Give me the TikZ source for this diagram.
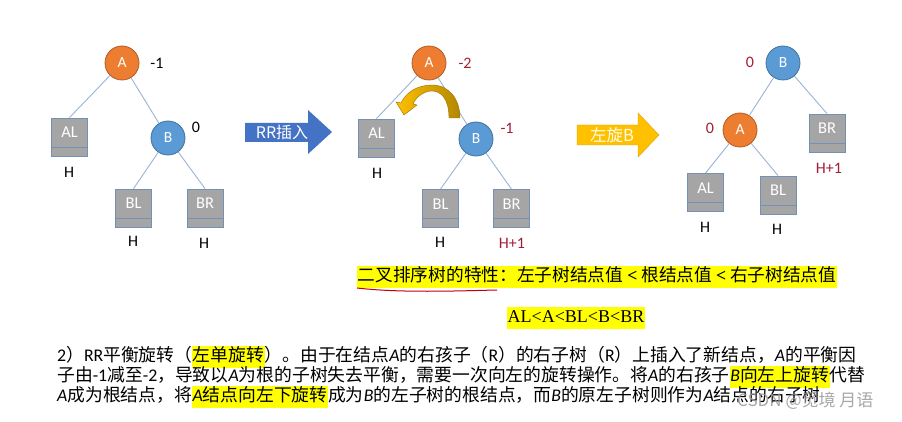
\documentclass[tikz,border=0pt]{standalone}
\usepackage{fontspec}
\setmainfont{Carlito}
\newfontfamily\cjk{Noto Sans CJK SC}
\newfontfamily\tms{Liberation Serif}
\usetikzlibrary{calc}
\definecolor{aorange}{HTML}{ED7D31}
\definecolor{aorangeD}{HTML}{B45A22}
\definecolor{bblue}{HTML}{5B9BD5}
\definecolor{bblueD}{HTML}{41719C}
\definecolor{boxgray}{HTML}{A5A5A5}
\definecolor{boxedge}{HTML}{7390B5}
\definecolor{linkblue}{HTML}{9BB4D6}
\definecolor{numred}{HTML}{A21E36}
\definecolor{arrblue}{HTML}{4472C4}
\definecolor{arrgold}{HTML}{FFC000}
\definecolor{hly}{HTML}{FFFF00}
\newcommand\hl[1]{{\setlength\fboxsep{0.6pt}\colorbox{hly}{\strut #1}}}
\newcommand\ia{{\normalfont\itshape A}}
\newcommand\ib{{\normalfont\itshape B}}
\newcommand\lt[1]{{\normalfont #1}}
\begin{document}
\begin{tikzpicture}[x=1pt,y=-1pt,
  circA/.style={circle, minimum size=34pt, inner sep=0pt, fill=aorange, draw=aorangeD, line width=0.8pt, text=white, font=\fontsize{15.5}{15.5}\selectfont},
  circB/.style={circA, fill=bblue, draw=bblueD},
  tbox/.style={rectangle, minimum width=36pt, minimum height=38pt, inner sep=0pt, fill=boxgray, draw=boxedge, line width=0.8pt,
     path picture={\draw[boxedge,line width=0.8pt] ([yshift=9pt]path picture bounding box.south west) -- ([yshift=9pt]path picture bounding box.south east);}},
  blbl/.style={text=white, font=\fontsize{16.5}{16.5}\selectfont, inner sep=0pt, yshift=4.5pt},
  num/.style={font=\fontsize{16}{16}\selectfont, inner sep=0pt},
  rnum/.style={num, text=numred},
  link/.style={draw=linkblue, line width=0.9pt},
  para/.style={anchor=west, inner sep=0pt, font=\cjk\fontsize{17.8}{20}\selectfont}
]
\useasboundingbox[fill=white] (0,0) rectangle (902,422);

% ---------- tree 1
\node[circA] (A1) at (122,63) {A};
\node[circB] (B1) at (168,138) {B};
\node[tbox, label={[blbl]center:AL}] (AL1) at (69.5,137) {};
\node[tbox, label={[blbl]center:BL}] (BL1) at (133.5,208) {};
\node[tbox, label={[blbl]center:BR}] (BR1) at (205,208) {};
\draw[link] (A1) -- (AL1.north);
\draw[link] (A1) -- (B1);
\draw[link] (B1) -- (BL1.north);
\draw[link] (B1) -- (BR1.north);
\node[num] (n1a) at (157,63) {-1};
\node[num] (n1b) at (196,127) {0};
\node[num] (h1a) at (69,172) {H};
\node[num] (h1b) at (133,241) {H};
\node[num] (h1c) at (204,243) {H};

% ---------- arrow 1
\fill[arrblue] (245,123) -- (308,123) -- (308,110) -- (332,132) -- (308,154) -- (308,142) -- (245,142) -- cycle;
\node[text=white, font=\cjk\fontsize{16}{16}\selectfont, inner sep=0pt] (t1) at (282,132) {RR插入};

% ---------- tree 2
\node[circA] (A2) at (429,63) {A};
\node[circB] (B2) at (476,139) {B};
\node[tbox, label={[blbl]center:AL}] (AL2) at (376.5,138) {};
\node[tbox, label={[blbl]center:BL}] (BL2) at (440.5,208.5) {};
\node[tbox, label={[blbl]center:BR}] (BR2) at (511.5,208.5) {};
\draw[link] (A2) -- (AL2.north);
\draw[link] (A2) -- (B2);
\draw[link] (B2) -- (BL2.north);
\draw[link] (B2) -- (BR2.north);
\node[rnum] (n2a) at (465,63) {-2};
\node[rnum] (n2b) at (507,128) {-1};
\node[num] (h2a) at (377,173) {H};
\node[num] (h2b) at (440,242) {H};
\node[rnum] (h2c) at (512,243) {H+1};
% curved rotation arrow
\shade[left color=arrgold, right color=arrgold!70!black, draw=arrgold!60!black, line width=0.4pt]
  (449,118) .. controls (449,99) and (441,91) .. (432,91)
  .. controls (424,91) and (416,97) .. (413,104) -- (417,105) -- (404,115) -- (396,102) -- (401,103)
  .. controls (406,92) and (418,85) .. (432,85)
  .. controls (449,85) and (460,99) .. (460,118) -- cycle;

% ---------- arrow 2
\fill[arrgold, draw=arrgold!85!black, line width=0.4pt] (577,125) -- (638,125) -- (638,113) -- (659,135) -- (638,157) -- (638,145) -- (577,145) -- cycle;
\node[text=white!92!yellow, font=\cjk\fontsize{16.5}{16.5}\selectfont, inner sep=0pt] (t2) at (612,135) {左旋B};

% ---------- tree 3
\node[circB] (B3) at (783,63) {B};
\node[circA] (A3) at (740,130) {A};
\node[tbox, label={[blbl]center:BR}] (BR3) at (827,133) {};
\node[tbox, label={[blbl]center:AL}] (AL3) at (705.5,192.5) {};
\node[tbox, label={[blbl]center:BL}] (BL3) at (778,195) {};
\draw[link] (B3) -- (A3);
\draw[link] (B3) -- (BR3.north);
\draw[link] (A3) -- (AL3.north);
\draw[link] (A3) -- (BL3.north);
\node[rnum] (n3a) at (750,62) {0};
\node[rnum] (n3b) at (710,128) {0};
\node[rnum] (h3a) at (829,168) {H+1};
\node[num] (h3b) at (705,227) {H};
\node[num] (h3c) at (777,229) {H};

% ---------- property text
\node[anchor=west, inner sep=0pt, font=\cjk\fontsize{17.7}{20}\selectfont] (prop) at (357,277)
  {\hl{二叉排序树的特性：左子树结点值 {\tms\bfseries <} 根结点值 {\tms\bfseries <} 右子树结点值}};
\draw[red!75!black, line width=1pt] (357,288) .. controls (400,293) and (455,291) .. (497,290);
\node[inner sep=0pt, font=\tms\fontsize{18}{20}\selectfont] (ord) at (576,318) {\hl{AL<A<BL<B<BR}};

% ---------- paragraph
\node[para] (p1) at (57,357) {\lt{2}）\lt{RR}平衡旋转（\hl{左单旋转}）。由于在结点\ia 的右孩子（\lt{R}）的右子树（\lt{R}）上插入了新结点，\ia 的平衡因};
\node[para] (p2) at (57,377) {子由\lt{-1}减至\lt{-2}，导致以\ia 为根的子树失去平衡，需要一次向左的旋转操作。将\ia 的右孩子\hl{\ib 向左上旋转}代替};
\node[para] (p3) at (57,397) {\ia 成为根结点，将\hl{\ia 结点向左下旋转}成为\ib 的左子树的根结点，而\ib 的原左子树则作为\ia 结点的右子树};
\node[anchor=west, inner sep=0pt, text=gray!80, opacity=0.85, font=\cjk\fontsize{17}{20}\selectfont] (wm) at (737,401) {CSDN @觅境 月语};
\end{tikzpicture}
\end{document}
